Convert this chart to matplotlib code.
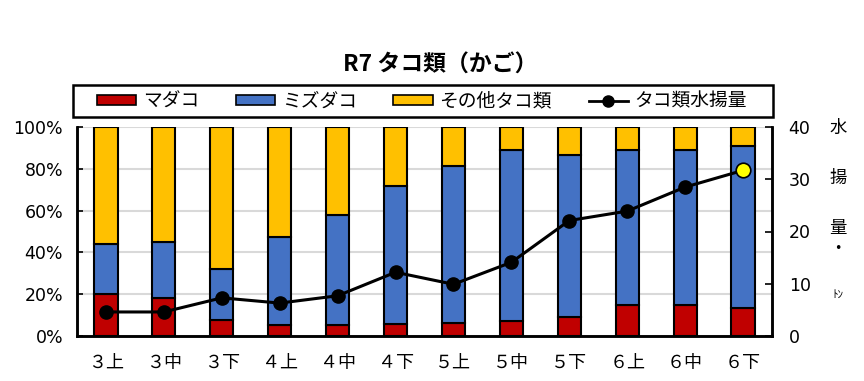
import numpy as np
import matplotlib
matplotlib.use("Agg")
import matplotlib.pyplot as plt
from matplotlib.patches import Patch, Rectangle
from matplotlib.lines import Line2D

plt.rcParams['font.family'] = ['Noto Sans CJK JP', 'DejaVu Sans']

# data
periods = ['３上', '３中', '３下', '４上', '４中', '４下', '５上', '５中', '５下', '６上', '６中', '６下']
madako = [20.3, 18.3, 7.5, 5.1, 5.1, 5.6, 6.4, 7.0, 9.1, 14.7, 14.7, 13.2]          # % share
mizudako = [23.9, 26.7, 24.7, 42.1, 52.6, 66.0, 74.8, 81.8, 77.7, 74.5, 74.1, 77.5]  # % share
sonota = [55.8, 55.0, 67.8, 52.8, 42.3, 28.4, 18.8, 11.2, 13.2, 10.8, 11.2, 9.3]     # % share
catch_t = [4.6, 4.6, 7.3, 6.3, 7.7, 12.2, 9.9, 14.1, 22.1, 23.9, 28.5, 31.7]         # トン

c_red = '#C00000'
c_blue = '#4472C4'
c_yel = '#FFC000'

fig = plt.figure(figsize=(8.64, 3.81), dpi=100)
ax = fig.add_axes([77/864, 1-336/381, 695/864, 209/381])
x = np.arange(len(periods))
w = 0.4
m = np.array(madako)
z = np.array(mizudako)
s = np.array(sonota)
ax.bar(x, m, w, color=c_red, edgecolor='black', linewidth=1.5, zorder=3)
ax.bar(x, z, w, bottom=m, color=c_blue, edgecolor='black', linewidth=1.5, zorder=3)
ax.bar(x, s, w, bottom=m+z, color=c_yel, edgecolor='black', linewidth=1.5, zorder=3)

ax.set_xlim(-0.5, len(periods)-0.5)
ax.set_ylim(0, 100)
ax.set_yticks(range(0, 101, 20))
ax.set_yticklabels([f'{v}%' for v in range(0, 101, 20)], fontsize=12.5, family=['Liberation Sans Narrow', 'DejaVu Sans'])
ax.set_xticks(x)
ax.set_xticklabels(periods, fontsize=13)
ax.tick_params(axis='x', length=0, pad=13)
ax.tick_params(axis='y', direction='in', length=4, width=1.2, pad=10)
ax.yaxis.grid(True, color='#d9d9d9', linewidth=1.5, zorder=0)
ax.set_axisbelow(True)
ax.spines['top'].set_visible(False)
for sp in ['left', 'bottom', 'right']:
    ax.spines[sp].set_linewidth(1.8)

ax2 = ax.twinx()
ax2.plot(x, catch_t, color='black', linewidth=2.2, marker='o', markersize=9.5,
         markerfacecolor='black', markeredgecolor='black', zorder=5)
ax2.plot(x[-1], catch_t[-1], marker='o', markersize=10.5, markerfacecolor='#FFFF00',
         markeredgecolor='black', markeredgewidth=1.2, linestyle='none', zorder=6)
ax2.set_ylim(0, 40)
ax2.set_yticks(range(0, 41, 10))
ax2.set_yticklabels([str(v) for v in range(0, 41, 10)], fontsize=12.5, family=['Liberation Sans Narrow', 'DejaVu Sans'])
ax2.tick_params(axis='y', direction='in', length=5, width=1.2, pad=12)
ax2.spines['top'].set_visible(False)
for sp in ['left', 'bottom', 'right']:
    ax2.spines[sp].set_linewidth(1.8)

# vertical right-axis label
for ch, yy, fs in [('水', 128, 12.5), ('揚', 178, 12.5), ('量', 228, 12.5), ('・', 249, 12.5), ('ﾄﾝ', 295, 8)]:
    fig.text(838/864, 1-yy/381, ch, fontsize=fs, ha='center', va='center')

# legend: frame drawn separately, entries centred in it
fig.patches.append(Rectangle((73/864, 1-117/381), 700/864, 32/381, transform=fig.transFigure,
                             facecolor='white', edgecolor='black', linewidth=1.8, zorder=1))
handles = [Patch(facecolor=c_red, edgecolor='black', linewidth=1.2),
           Patch(facecolor=c_blue, edgecolor='black', linewidth=1.2),
           Patch(facecolor=c_yel, edgecolor='black', linewidth=1.2),
           Line2D([], [], color='black', linewidth=2, marker='o', markersize=8)]
labels = ['マダコ', 'ミズダコ', 'その他タコ類', 'タコ類水揚量']
leg = fig.legend(handles, labels, ncol=4, loc='center',
                 bbox_to_anchor=(422/864, 1-101/381),
                 fontsize=13.5, frameon=False,
                 handlelength=2.1, handleheight=0.45, handletextpad=0.36,
                 columnspacing=1.95, borderpad=0)

fig.text(440/864, 1-65/381, 'R7 タコ類（かご）', fontsize=16.5, fontweight='bold',
         ha='center', va='center')

fig.savefig('out.png', dpi=100)
